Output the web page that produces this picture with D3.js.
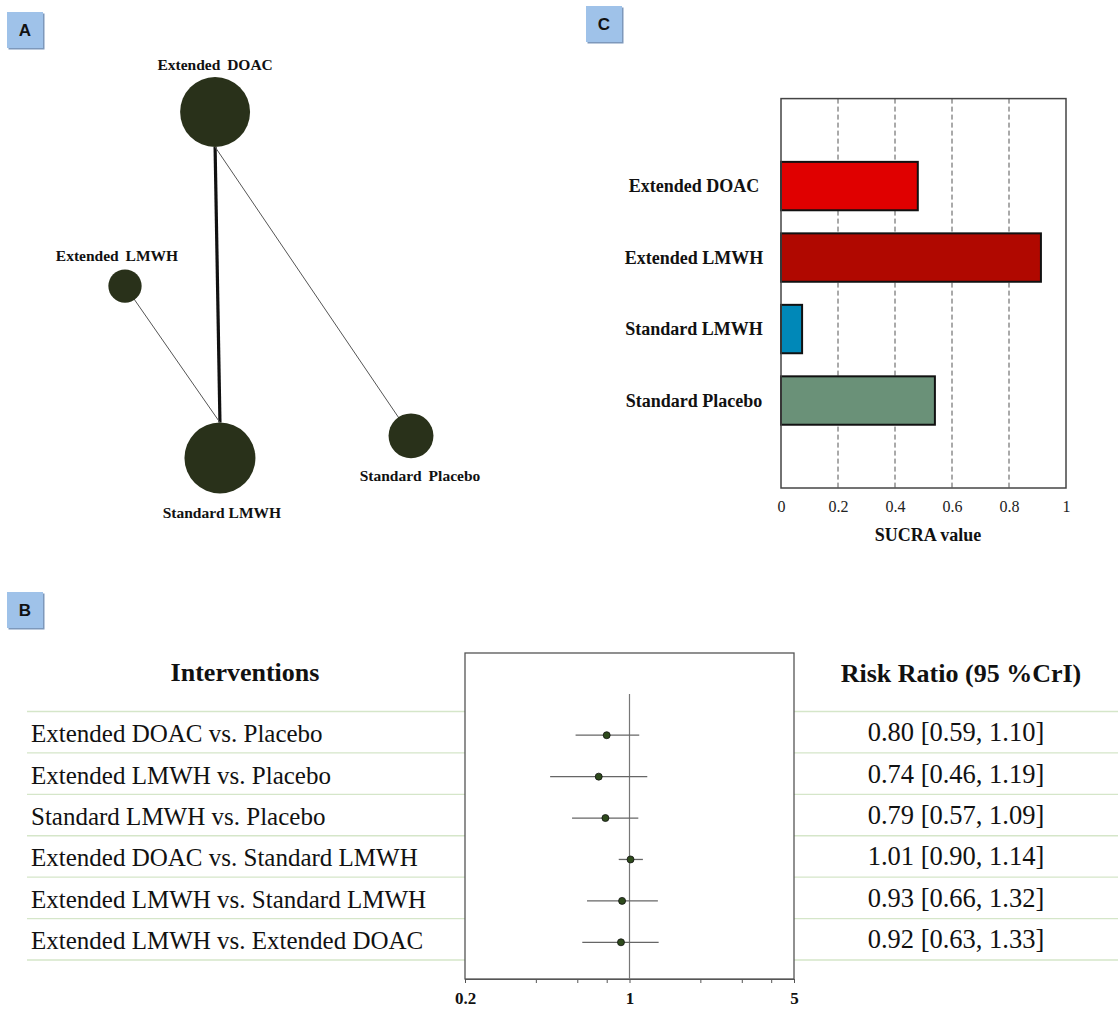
<script src='https://cdn.jsdelivr.net/npm/d3@7'></script>
<style>
body {margin:0; background:#fff;}
.serif {font-family:'Liberation Serif','Times New Roman',serif;}
.tag text {font-family:'Liberation Sans',Arial,sans-serif; font-weight:bold; font-size:17px;}
.sep {stroke:#d5e6c9; stroke-width:1.3;}
</style>
<body>
<svg id='fig' width='1118' height='1009'></svg>
<script>
// ---- data ----
var treatments=['Extended DOAC','Extended LMWH','Standard LMWH','Standard Placebo'];
// network layout (relative positions) and relative node weight
var nodeX=[0.315,0,0.332,1];
var nodeY=[1,0.497,0,0.064];
var nodeWeight=[0.97,0.22,1.0,0.40];
var edgeFrom=[0,1,0], edgeTo=[2,2,3], edgeStudies=[3,1,1];
// SUCRA
var sucra=[0.48,0.912,0.074,0.54];
var sucraColors=['#e00000','#b00800','#0088b8','#6a9178'];
var sucraTicks=[0,0.2,0.4,0.6,0.8,1];
// forest plot
var comparisons=['Extended DOAC vs. Placebo','Extended LMWH vs. Placebo','Standard LMWH vs. Placebo',
                 'Extended DOAC vs. Standard LMWH','Extended LMWH vs. Standard LMWH','Extended LMWH vs. Extended DOAC'];
var rr=[0.80,0.74,0.79,1.01,0.93,0.92];
var lo=[0.59,0.46,0.57,0.90,0.66,0.63];
var hi=[1.10,1.19,1.09,1.14,1.32,1.33];
var forestTicks=[0.2,0.4,0.6,0.8,1,2,3,4,5];
var forestLabels=[0.2,1,5];

var svg=d3.select('#fig');

// ---- panel tags ----
function tag(x,y,letter){
  var g=svg.append('g').attr('class','tag').attr('transform','translate('+x+','+y+')');
  g.append('rect').attr('x',1.5).attr('y',1.5).attr('width',36).attr('height',36).attr('fill','#7d98bb');
  g.append('rect').attr('width',36).attr('height',36).attr('fill','#9fc2e9');
  g.append('text').attr('x',18).attr('y',24).attr('text-anchor','middle').attr('fill','#111').text(letter);
}
tag(7,12,'A'); tag(586,6,'C'); tag(7,592,'B');

// ---- A: network ----
var nx=d3.scaleLinear().domain([0,1]).range([125,411]);
var ny=d3.scaleLinear().domain([0,1]).range([458,112]);
var nr=d3.scaleSqrt().domain([0,1]).range([0,35.5]);
var nw=d3.scaleLinear().domain([1,3]).range([1,3.2]);
var nodes=treatments.map(function(t,i){return {name:t,x:nx(nodeX[i]),y:ny(nodeY[i]),r:nr(nodeWeight[i])};});
function anchor(a,b){ // attach edge on top/bottom of big nodes
  if(a.r>30){return {x:a.x,y:a.y+(b.y>a.y?a.r:-a.r)};}
  return {x:a.x,y:a.y};
}
var net=svg.append('g');
edgeFrom.forEach(function(s,i){
  var a=nodes[s],b=nodes[edgeTo[i]];
  var p=anchor(a,b),q=anchor(b,a);
  net.append('line').attr('x1',p.x).attr('y1',p.y).attr('x2',q.x).attr('y2',q.y)
     .attr('stroke',edgeStudies[i]>1?'#111':'#555').attr('stroke-width',nw(edgeStudies[i]));
});
net.selectAll('circle').data(nodes).enter().append('circle')
   .attr('cx',function(d){return d.x}).attr('cy',function(d){return d.y}).attr('r',function(d){return d.r})
   .attr('fill','#29311a');
var labelDy=[-42,-25,60,45];
net.selectAll('text').data(nodes).enter().append('text').attr('class','serif')
   .attr('x',function(d,i){return d.x+[0,-8,2,9][i]}).attr('y',function(d,i){return d.y+labelDy[i]})
   .attr('text-anchor','middle').attr('font-weight','bold').attr('font-size','15.5px')
   .attr('word-spacing',function(d,i){return i==2?'0px':'3px'}).attr('fill','#111')
   .text(function(d){return d.name});

// ---- C: SUCRA ----
var sx=d3.scaleLinear().domain([0,1]).range([781,1066]);
var sy=d3.scaleBand().domain(treatments).range([98.6,488]).paddingInner(0.323).paddingOuter(0.885);
var cg=svg.append('g');
cg.selectAll('.grid').data(sucraTicks.slice(1,5)).enter().append('line')
  .attr('x1',function(d){return sx(d)}).attr('x2',function(d){return sx(d)})
  .attr('y1',98.6).attr('y2',488).attr('stroke','#555').attr('stroke-width',1).attr('stroke-dasharray','5,3');
cg.selectAll('.bar').data(sucra).enter().append('rect')
  .attr('x',sx(0)).attr('y',function(d,i){return sy(treatments[i])})
  .attr('width',function(d){return sx(d)-sx(0)}).attr('height',sy.bandwidth())
  .attr('fill',function(d,i){return sucraColors[i]}).attr('stroke','#111').attr('stroke-width',2);
cg.append('rect').attr('x',781).attr('y',98.6).attr('width',285).attr('height',389.4)
  .attr('fill','none').attr('stroke','#444').attr('stroke-width',1.5);
cg.selectAll('.lab').data(treatments).enter().append('text').attr('class','serif')
  .attr('x',694).attr('y',function(d){return sy(d)+sy.bandwidth()/2+6})
  .attr('text-anchor','middle').attr('font-weight','bold').attr('font-size','18px').attr('fill','#111')
  .text(function(d){return d});
var sAxis=cg.append('g').attr('transform','translate(0,488)')
  .call(d3.axisBottom(sx).tickValues(sucraTicks).tickSize(0).tickPadding(13).tickFormat(d3.format('~g')));
sAxis.select('.domain').remove();
sAxis.selectAll('text').attr('class','serif').attr('font-size','16px').attr('fill','#222');
cg.append('text').attr('class','serif').attr('x',928).attr('y',541).attr('text-anchor','middle')
  .attr('font-weight','bold').attr('font-size','18px').attr('fill','#111').text('SUCRA value');

// ---- B: forest ----
var fx=d3.scaleLog().domain([0.2,5]).range([465,794]);
var fy=d3.scaleBand().domain(comparisons).range([711.5,960]);
var fg=svg.append('g');
var seps=comparisons.map(function(c){return fy(c)}).concat([fy.range()[1]]);
fg.selectAll('.sepL').data(seps).enter().append('line').attr('class','sep')
  .attr('x1',27).attr('x2',465).attr('y1',function(d){return d}).attr('y2',function(d){return d});
fg.selectAll('.sepR').data(seps).enter().append('line').attr('class','sep')
  .attr('x1',794).attr('x2',1118).attr('y1',function(d){return d}).attr('y2',function(d){return d});
fg.append('rect').attr('x',465).attr('y',653).attr('width',329).attr('height',326)
  .attr('fill','#fff').attr('stroke','#555').attr('stroke-width',1.3);
fg.append('line').attr('x1',fx(1)).attr('x2',fx(1)).attr('y1',694).attr('y2',979)
  .attr('stroke','#777').attr('stroke-width',1.2);
fg.selectAll('.ci').data(comparisons).enter().append('line')
  .attr('x1',function(d,i){return fx(lo[i])}).attr('x2',function(d,i){return fx(hi[i])})
  .attr('y1',function(d){return fy(d)+fy.bandwidth()/2+3}).attr('y2',function(d){return fy(d)+fy.bandwidth()/2+3})
  .attr('stroke','#666').attr('stroke-width',1.3);
fg.selectAll('.pt').data(comparisons).enter().append('circle')
  .attr('cx',function(d,i){return fx(rr[i])}).attr('cy',function(d){return fy(d)+fy.bandwidth()/2+3})
  .attr('r',3.5).attr('fill','#2e4a1c').attr('stroke','#111').attr('stroke-width',0.8);
var fAxis=fg.append('g').attr('transform','translate(0,979)')
  .call(d3.axisBottom(fx).tickValues(forestTicks).tickSize(4).tickPadding(9)
        .tickFormat(function(d){return forestLabels.indexOf(d)>=0?d3.format('~g')(d):''}));
fAxis.select('.domain').attr('stroke','#555');
fAxis.selectAll('line').attr('stroke','#555');
fAxis.selectAll('text').attr('class','serif').attr('font-size','17px').attr('font-weight','bold').attr('fill','#111');
// table text
fg.append('text').attr('class','serif').attr('x',245).attr('y',681).attr('text-anchor','middle')
  .attr('font-weight','bold').attr('font-size','26px').attr('fill','#111').text('Interventions');
fg.append('text').attr('class','serif').attr('x',961).attr('y',682).attr('text-anchor','middle')
  .attr('font-weight','bold').attr('font-size','26px').attr('fill','#111').text('Risk Ratio (95 %CrI)');
fg.selectAll('.cmp').data(comparisons).enter().append('text').attr('class','serif')
  .attr('x',31).attr('y',function(d){return fy(d)+fy.bandwidth()/2+10})
  .attr('font-size','25px').attr('fill','#111').text(function(d){return d});
var f2=d3.format('.2f');
fg.selectAll('.val').data(comparisons).enter().append('text').attr('class','serif')
  .attr('x',956).attr('y',function(d){return fy(d)+fy.bandwidth()/2+9}).attr('text-anchor','middle')
  .attr('font-size','26.5px').attr('fill','#111')
  .text(function(d,i){return f2(rr[i])+' ['+f2(lo[i])+', '+f2(hi[i])+']'});
</script>
</body>
